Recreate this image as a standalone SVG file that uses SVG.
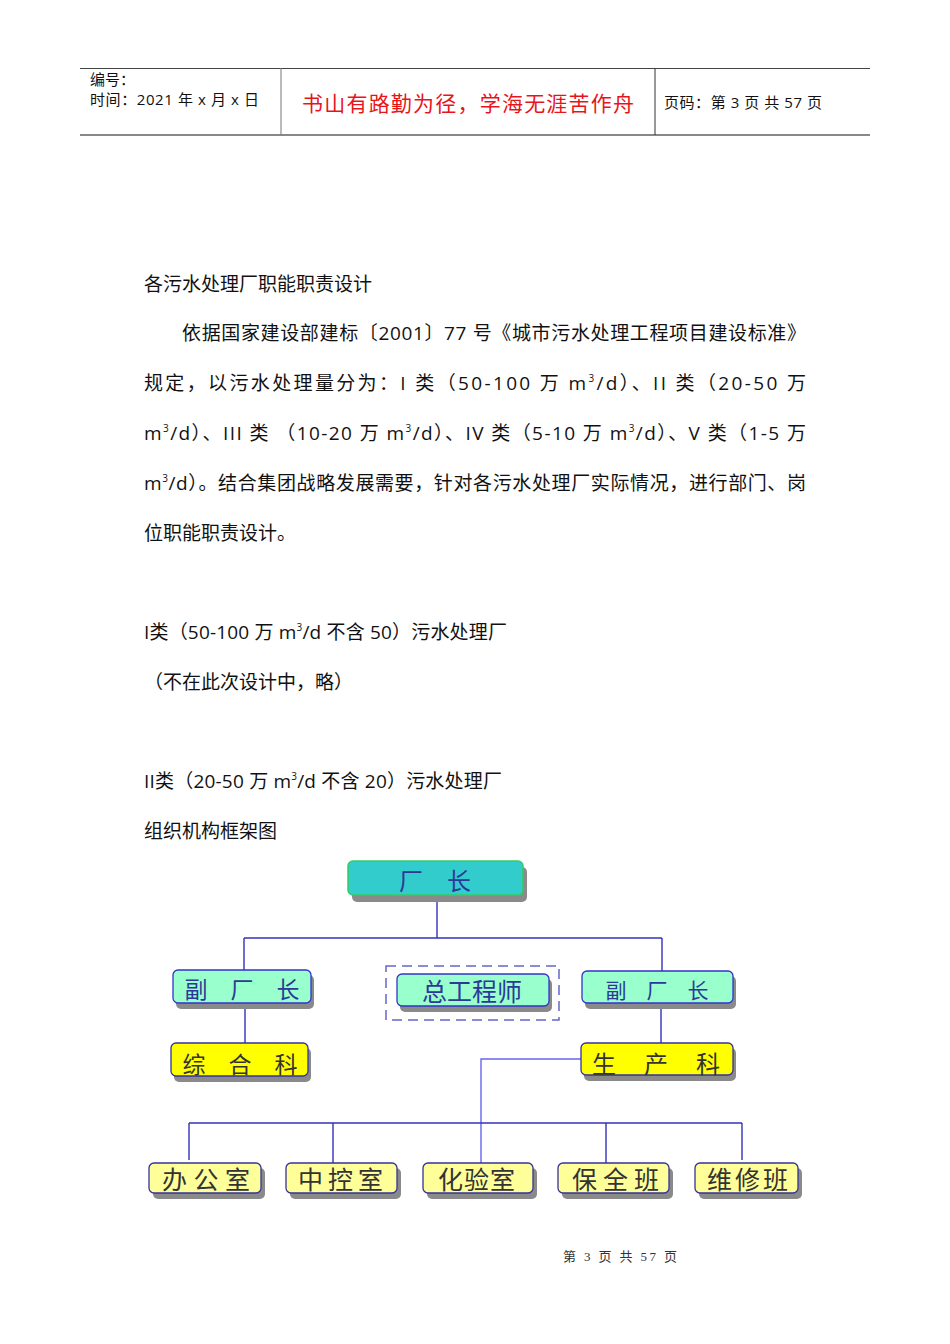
<svg xmlns="http://www.w3.org/2000/svg" width="950" height="1344" viewBox="0 0 950 1344">
<style>
text{font-family:"Open Sans","Noto Sans CJK SC",sans-serif;}
.body{font-size:19px;fill:#111;}
.hd{font-size:15px;fill:#111;}
.red{font-size:21px;fill:#E8141B;font-family:"Noto Sans CJK SC",sans-serif;}
.ft{font-family:"Liberation Serif","Noto Sans CJK SC",serif;font-size:13px;fill:#333;}
.sh{fill:#8a8a8a;}
.teal{fill:#33CCCC;stroke:#33CC66;stroke-width:1.5;}
.aqua{fill:#99FFCC;stroke:#3333CC;stroke-width:1.3;}
.yel{fill:#FFFF00;stroke:#333399;stroke-width:1.3;}
.lyel{fill:#FFFF99;stroke:#333399;stroke-width:1.3;}
.tb{fill:#2B3A99;font-family:"Noto Sans CJK SC",sans-serif;}
.tk{fill:#333;font-family:"Noto Sans CJK SC",sans-serif;}
.ln{stroke:#3333BB;stroke-width:1.4;fill:none;}
.ln2{stroke:#6666EE;stroke-width:1.4;fill:none;}
</style>
<rect width="950" height="1344" fill="#fff"/>
<g id="header">
<line x1="80" y1="68.5" x2="870" y2="68.5" stroke="#444" stroke-width="1"/>
<line x1="80" y1="135" x2="870" y2="135" stroke="#888" stroke-width="2"/>
<line x1="281" y1="68" x2="281" y2="135" stroke="#777" stroke-width="1"/>
<line x1="655" y1="68" x2="655" y2="135" stroke="#333" stroke-width="1"/>
<text class="hd" x="90" y="85">编号：</text>
<text class="hd" x="90" y="105" textLength="169" lengthAdjust="spacing">时间：2021 年 x 月 x 日</text>
<text class="red" x="302" y="111" textLength="332">书山有路勤为径，学海无涯苦作舟</text>
<text class="hd" x="664" y="108" textLength="158" lengthAdjust="spacing">页码：第 3 页  共 57 页</text>
</g>
<g id="body">
<text class="body" x="144" y="291">各污水处理厂职能职责设计</text>
<text class="body" x="182" y="340" textLength="624" lengthAdjust="spacing">依据国家建设部建标〔2001〕77 号《城市污水处理工程项目建设标准》</text>
<text class="body" x="144" y="390" textLength="662" lengthAdjust="spacing">规定，以污水处理量分为：I 类（50-100 万 m<tspan font-size="10" dy="-8">3</tspan><tspan dy="8">/d）、II 类（20-50 万</tspan></text>
<text class="body" x="144" y="440" textLength="662" lengthAdjust="spacing">m<tspan font-size="10" dy="-8">3</tspan><tspan dy="8">/d）、III 类 （10-20 万 m</tspan><tspan font-size="10" dy="-8">3</tspan><tspan dy="8">/d）、IV 类（5-10 万 m</tspan><tspan font-size="10" dy="-8">3</tspan><tspan dy="8">/d）、V 类（1-5 万</tspan></text>
<text class="body" x="144" y="490" textLength="662" lengthAdjust="spacing">m<tspan font-size="10" dy="-8">3</tspan><tspan dy="8">/d）。结合集团战略发展需要，针对各污水处理厂实际情况，进行部门、岗</tspan></text>
<text class="body" x="144" y="540">位职能职责设计。</text>
<text class="body" x="144" y="639" textLength="363" lengthAdjust="spacing">I类（50-100 万 m<tspan font-size="10" dy="-8">3</tspan><tspan dy="8">/d 不含 50）污水处理厂</tspan></text>
<text class="body" x="144" y="689">（不在此次设计中，略）</text>
<text class="body" x="144" y="788" textLength="358" lengthAdjust="spacing">II类（20-50 万 m<tspan font-size="10" dy="-8">3</tspan><tspan dy="8">/d 不含 20）污水处理厂</tspan></text>
<text class="body" x="144" y="838">组织机构框架图</text>
</g>
<g id="connectors">
<path class="ln" d="M437 901V938M244 938H662M244 938V970M662 938V971"/>
<path class="ln" d="M245 1003V1043M661 1003V1043"/>
<path class="ln2" d="M581 1059H481V1163"/>
<path class="ln" d="M189 1123H742M189 1123V1160M333 1123V1163M606 1123V1163M742 1123V1160"/>
</g>
<g id="n-factory-director">
<rect class="sh" x="352" y="867" width="175" height="35" rx="5"/>
<rect class="teal" x="348" y="861" width="175" height="34" rx="5"/>
<text class="tb" x="435" y="890" font-size="24" text-anchor="middle">厂　长</text>
</g>
<g id="n-deputy-left">
<rect class="sh" x="176" y="975" width="138" height="34" rx="5"/>
<rect class="aqua" x="173" y="970" width="138" height="33" rx="5"/>
<text class="tb" x="242" y="998" font-size="23" text-anchor="middle">副　厂　长</text>
</g>
<g id="n-chief-engineer">
<rect x="386" y="966" width="173" height="54" fill="none" stroke="#6666CC" stroke-width="1.5" stroke-dasharray="10,6"/>
<rect class="sh" x="400" y="979" width="152" height="33" rx="5"/>
<rect class="aqua" x="397" y="974" width="152" height="32" rx="5"/>
<text class="tb" x="472" y="1001" font-size="25" text-anchor="middle">总工程师</text>
</g>
<g id="n-deputy-right">
<rect class="sh" x="585" y="976" width="151" height="33" rx="5"/>
<rect class="aqua" x="582" y="971" width="151" height="32" rx="5"/>
<text class="tb" x="657" y="998" font-size="21" text-anchor="middle" textLength="103">副　厂　长</text>
</g>
<g id="n-general">
<rect class="sh" x="174" y="1048" width="137" height="34" rx="5"/>
<rect class="yel" x="171" y="1043" width="137" height="33" rx="5"/>
<text class="tk" x="240" y="1073" font-size="23" text-anchor="middle">综　合　科</text>
</g>
<g id="n-production">
<rect class="sh" x="584" y="1048" width="152" height="33" rx="5"/>
<rect class="yel" x="581" y="1043" width="152" height="32" rx="5"/>
<text class="tk" x="592" y="1073" font-size="24" textLength="128" lengthAdjust="spacing">生　产　科</text>
</g>
<g id="n-office">
<rect class="sh" x="153" y="1168" width="112" height="31" rx="5"/>
<rect class="lyel" x="149" y="1163" width="112" height="30" rx="5"/>
<text class="tk" x="162" y="1189" font-size="25" textLength="88" lengthAdjust="spacing">办公室</text>
</g>
<g id="n-control">
<rect class="sh" x="290" y="1168" width="111" height="31" rx="5"/>
<rect class="lyel" x="286" y="1163" width="111" height="30" rx="5"/>
<text class="tk" x="298" y="1189" font-size="25" textLength="85" lengthAdjust="spacing">中控室</text>
</g>
<g id="n-lab">
<rect class="sh" x="427" y="1168" width="110" height="31" rx="5"/>
<rect class="lyel" x="423" y="1163" width="110" height="30" rx="5"/>
<text class="tk" x="438" y="1189" font-size="25" textLength="77" lengthAdjust="spacing">化验室</text>
</g>
<g id="n-maintenance">
<rect class="sh" x="562" y="1168" width="111" height="31" rx="5"/>
<rect class="lyel" x="558" y="1163" width="111" height="30" rx="5"/>
<text class="tk" x="572" y="1189" font-size="25" textLength="87" lengthAdjust="spacing">保全班</text>
</g>
<g id="n-repair">
<rect class="sh" x="699" y="1168" width="103" height="31" rx="5"/>
<rect class="lyel" x="695" y="1163" width="103" height="30" rx="5"/>
<text class="tk" x="707" y="1189" font-size="25" textLength="81" lengthAdjust="spacing">维修班</text>
</g>
<g id="footer">
<text class="ft" x="563" y="1261" textLength="114" lengthAdjust="spacing">第 3 页 共 57 页</text>
</g>
</svg>
